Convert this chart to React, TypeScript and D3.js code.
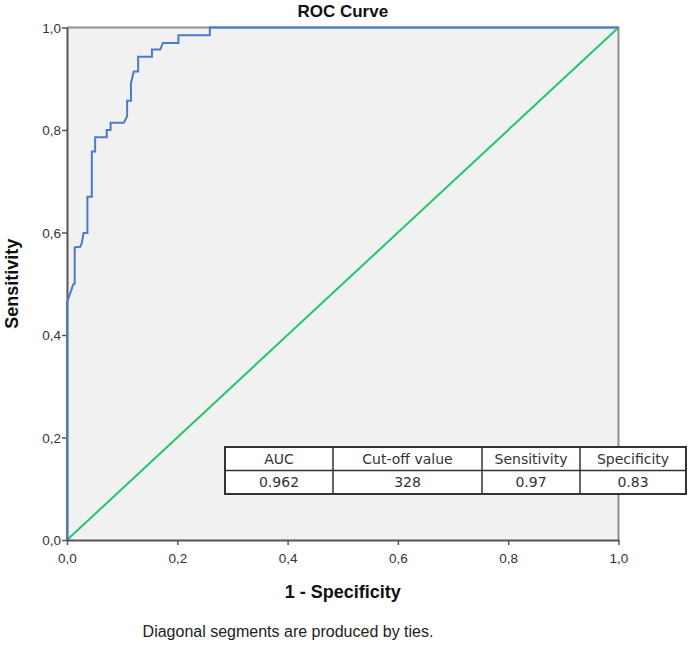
import React, { useRef, useEffect } from 'react';
import * as d3 from 'd3';

// ROC curve points: [1 - specificity, sensitivity]
const rocFpr = [0, 0, 0.008, 0.011, 0.014, 0.014, 0.024, 0.027, 0.030, 0.037, 0.037, 0.045, 0.045, 0.051, 0.051, 0.072, 0.072, 0.079, 0.079, 0.103, 0.109, 0.109, 0.116, 0.116, 0.121, 0.129, 0.129, 0.154, 0.154, 0.169, 0.174, 0.202, 0.202, 0.259, 0.259, 1];
const rocTpr = [0, 0.464, 0.488, 0.498, 0.500, 0.571, 0.572, 0.580, 0.599, 0.599, 0.670, 0.670, 0.758, 0.758, 0.786, 0.786, 0.800, 0.800, 0.814, 0.814, 0.827, 0.857, 0.857, 0.891, 0.914, 0.914, 0.943, 0.943, 0.957, 0.957, 0.970, 0.970, 0.985, 0.985, 1, 1];

const refFpr = [0, 1];
const refTpr = [0, 1];

const ticks = [0, 0.2, 0.4, 0.6, 0.8, 1.0];

const tableHeaders = ['AUC', 'Cut-off value', 'Sensitivity', 'Specificity'];
const tableValues = ['0.962', '328', '0.97', '0.83'];

export default function App() {
    const svgRef = useRef<SVGSVGElement>(null);

    useEffect(() => {
        const left = 67, right = 618.5, top = 27.5, bottom = 540;

        const svg = d3.select(svgRef.current);
        svg.selectAll('*').remove();

        const x = d3.scaleLinear().domain([0, 1]).range([left, right]);
        const y = d3.scaleLinear().domain([0, 1]).range([bottom, top]);
        const fmt = (d: number) => d3.format('.1f')(d).replace('.', ',');
        const pts = (xs: number[], ys: number[]) => xs.map((v, i) => [v, ys[i]] as [number, number]);
        const line = d3.line<[number, number]>().x(d => x(d[0])).y(d => y(d[1]));

        // plot background
        svg.append('rect')
            .attr('x', left).attr('y', top)
            .attr('width', right - left).attr('height', bottom - top)
            .attr('fill', '#f1f1f1');

        // top / right frame
        svg.append('path')
            .attr('d', `M${left},${top}H${right}V${bottom}`)
            .attr('fill', 'none')
            .attr('stroke', '#8f8f8f')
            .attr('stroke-width', 2);

        // title
        svg.append('text')
            .attr('x', (left + right) / 2).attr('y', 17)
            .attr('text-anchor', 'middle')
            .attr('font-family', 'Liberation Sans, Arial, sans-serif')
            .attr('font-weight', 'bold')
            .attr('font-size', 17)
            .attr('fill', '#111')
            .text('ROC Curve');

        // diagonal reference
        svg.append('path')
            .attr('d', line(pts(refFpr, refTpr)))
            .attr('fill', 'none')
            .attr('stroke', '#1ec96c')
            .attr('stroke-width', 2);

        // axes
        const xAxis = svg.append('g')
            .attr('transform', `translate(0,${bottom})`)
            .call(d3.axisBottom(x).tickValues(ticks).tickFormat(fmt as any).tickSize(5).tickSizeOuter(0));
        const yAxis = svg.append('g')
            .attr('transform', `translate(${left},0)`)
            .call(d3.axisLeft(y).tickValues(ticks).tickFormat(fmt as any).tickSize(5).tickSizeOuter(0));

        [xAxis, yAxis].forEach(g => {
            g.select('.domain').attr('stroke', '#555').attr('stroke-width', 2);
            g.selectAll('.tick line').attr('stroke', '#555').attr('stroke-width', 1.5);
            g.selectAll('.tick text')
                .attr('font-family', 'Liberation Sans, Arial, sans-serif')
                .attr('font-size', 13.5)
                .attr('fill', '#333');
        });
        xAxis.selectAll('.tick text').attr('dy', '1.1em');
        yAxis.selectAll('.tick text').attr('x', -6).attr('dy', '0.35em');

        // ROC curve
        svg.append('path')
            .attr('d', line(pts(rocFpr, rocTpr)))
            .attr('fill', 'none')
            .attr('stroke', '#4a7bca')
            .attr('stroke-width', 2);

        // axis titles
        svg.append('text')
            .attr('x', (left + right) / 2).attr('y', 598)
            .attr('text-anchor', 'middle')
            .attr('font-family', 'Liberation Sans, Arial, sans-serif')
            .attr('font-weight', 'bold')
            .attr('font-size', 18)
            .attr('fill', '#111')
            .text('1 - Specificity');

        svg.append('text')
            .attr('transform', `translate(18,${(top + bottom) / 2}) rotate(-90)`)
            .attr('text-anchor', 'middle')
            .attr('font-family', 'Liberation Sans, Arial, sans-serif')
            .attr('font-weight', 'bold')
            .attr('font-size', 18)
            .attr('fill', '#111')
            .text('Sensitivity');

        svg.append('text')
            .attr('x', 288).attr('y', 637)
            .attr('text-anchor', 'middle')
            .attr('font-family', 'Liberation Sans, Arial, sans-serif')
            .attr('font-size', 16)
            .attr('fill', '#222')
            .text('Diagonal segments are produced by ties.');

        // results table
        const colEdges = [225, 333, 482, 580, 686];
        const rowEdges = [447, 470.5, 494];
        const tbl = svg.append('g');
        tbl.append('rect')
            .attr('x', colEdges[0]).attr('y', rowEdges[0])
            .attr('width', colEdges[4] - colEdges[0]).attr('height', rowEdges[2] - rowEdges[0])
            .attr('fill', '#fff')
            .attr('stroke', '#333')
            .attr('stroke-width', 2);
        tbl.append('line')
            .attr('x1', colEdges[0]).attr('x2', colEdges[4])
            .attr('y1', rowEdges[1]).attr('y2', rowEdges[1])
            .attr('stroke', '#333').attr('stroke-width', 1.5);
        colEdges.slice(1, 4).forEach(cx => {
            tbl.append('line')
                .attr('x1', cx).attr('x2', cx)
                .attr('y1', rowEdges[0]).attr('y2', rowEdges[2])
                .attr('stroke', '#333').attr('stroke-width', 1.5);
        });
        [tableHeaders, tableValues].forEach((row, r) => {
            row.forEach((t, c) => {
                tbl.append('text')
                    .attr('x', (colEdges[c] + colEdges[c + 1]) / 2)
                    .attr('y', (rowEdges[r] + rowEdges[r + 1]) / 2)
                    .attr('dy', '0.36em')
                    .attr('text-anchor', 'middle')
                    .attr('font-family', 'DejaVu Sans, Verdana, sans-serif')
                    .attr('font-size', 14)
                    .attr('fill', '#333')
                    .text(t);
            });
        });
    }, []);

    return (
        <svg ref={svgRef} width={694} height={645}
            style={{ position: 'absolute', left: 0, top: 0, background: '#fff' }} />
    );
}
